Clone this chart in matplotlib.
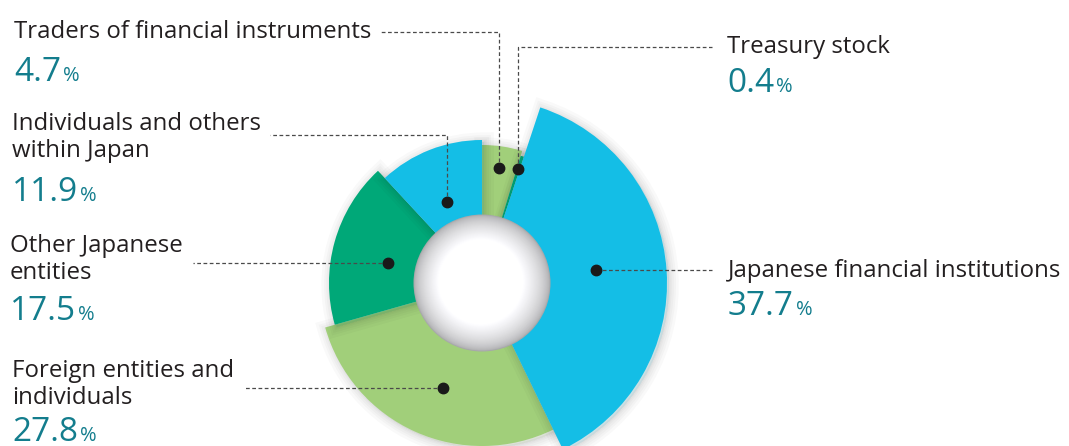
import matplotlib
matplotlib.use('Agg')
import matplotlib.pyplot as plt
import numpy as np
from matplotlib.patches import Circle
import matplotlib.patheffects as pe

# ---------------- data ----------------
categories = ["Traders of financial instruments", "Treasury stock",
              "Japanese financial institutions", "Foreign entities and individuals",
              "Other Japanese entities", "Individuals and others within Japan"]
label_text = ["Traders of financial instruments", "Treasury stock",
              "Japanese financial institutions", "Foreign entities and\nindividuals",
              "Other Japanese\nentities", "Individuals and others\nwithin Japan"]
shares = [4.7, 0.4, 37.7, 27.8, 17.5, 11.9]
share_labels = ["4.7", "0.4", "37.7", "27.8", "17.5", "11.9"]

# ---------------- style / layout ----------------
W, H = 1069, 446
LIGHT_GREEN = '#A1CF7A'
DARK_GREEN = '#00A878'
BLUE = '#14BEE6'
TEAL = '#137D8D'
TEXT = '#231F20'
colors = [LIGHT_GREEN, DARK_GREEN, BLUE, LIGHT_GREEN, DARK_GREEN, BLUE]
radii = [138, 133, 185, 163, 153, 143]
zorders = [2, 2.2, 3, 2, 2.1, 2.1]
cx, cy = 482, H - 283
hole_r = 68.5

# dot placement (radius, angle offset from wedge middle)
dot_r = [116, 120, 115, 112, 96, 88]
dot_off = [0, 0, 2.8, 3.7, 3.7, 2.0]
# leader routes: ('h', x_end) or ('vh', y_end_px, x_end)
routes = [('vh', 32, 380), ('vh', 47, 712), ('h', 712), ('h', 243), ('h', 193), ('vh', 135, 270)]
# label anchor: (x, first baseline px, percentage baseline px)
label_pos = [(14, 38, 81), (727, 53, 92), (728, 277, 315),
             (12, 377, 441), (10, 252, 320), (12, 130, 201)]

FONT = 'Open Sans'
LABEL_FS = 17.3

fig = plt.figure(figsize=(W / 100, H / 100), dpi=100)
ax = fig.add_axes([0, 0, 1, 1])

wedges, _ = ax.pie(shares, startangle=90, counterclock=False, center=(cx, cy),
                   radius=100, colors=colors, normalize=True)
glow = [pe.Stroke(offset=(1.5, -1.5), linewidth=lw, foreground='k', alpha=0.025)
        for lw in (14, 10, 7, 4, 2)]
glow.append(pe.Normal())
for w, r, z in zip(wedges, radii, zorders):
    w.set_radius(r)
    w.set_zorder(z)
    w.set_linewidth(0)
    w.set_edgecolor(w.get_facecolor())
    w.set_path_effects(glow)

# hole with shading
n = 70
for i in range(n):
    t = i / (n - 1)
    r = hole_r * (1 - t)
    g = 0.66 + 0.34 * min(1.0, t / 0.38) ** 0.6
    g = min(g, 1.0)
    off = 3.0 * t
    ax.add_patch(Circle((cx - off, cy + off), r,
                        facecolor=(g, g, min(1.0, g + 0.01)),
                        edgecolor='none', zorder=5))

# dots and leaders
dash = dict(color='#4a4a4a', lw=0.9, linestyle=(0, (3, 2)), zorder=6)
for w, rr, off, route in zip(wedges, dot_r, dot_off, routes):
    ang = np.deg2rad((w.theta1 + w.theta2) / 2 + off)
    dx, dy = cx + rr * np.cos(ang), cy + rr * np.sin(ang)
    if route[0] == 'h':
        ax.plot([dx, route[1]], [dy, dy], **dash)
    else:
        yl = H - route[1]
        ax.plot([dx, dx, route[2]], [dy, yl, yl], **dash)
    ax.plot(dx, dy, 'o', color='#1a1a1a', ms=7.5, zorder=7)

ax.set_xlim(0, W)
ax.set_ylim(0, H)
ax.set_aspect('auto')
ax.axis('off')

# labels
renderer = fig.canvas.get_renderer()
for txt, val, (x, yb, yp) in zip(label_text, share_labels, label_pos):
    lines = txt.split('\n')
    for k, line in enumerate(lines):
        ax.text(x, H - yb - 27 * k, line, fontsize=LABEL_FS, family=FONT, color=TEXT,
                va='baseline', ha='left', zorder=8)
    t = ax.text(x, H - yp, val, fontsize=24, family=FONT, color=TEAL,
                va='baseline', ha='left', zorder=8)
    bb = t.get_window_extent(renderer)
    ax.text(bb.x1 + 2, H - yp, '%', fontsize=14.5, family=FONT, color=TEAL,
            va='baseline', ha='left', zorder=8)

fig.savefig('out.png', dpi=100)
